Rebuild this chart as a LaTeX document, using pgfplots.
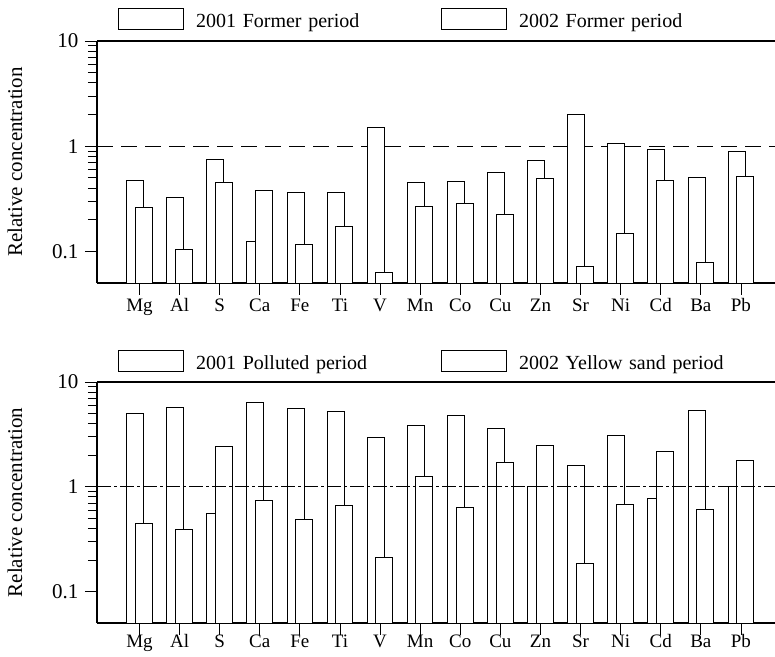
\documentclass[border=0pt]{standalone}
\usepackage{pgfplots}
\pgfplotsset{compat=1.18}
\usepackage{fontspec}
\setmainfont{Liberation Serif}

\newcommand{\lbl}{\fontsize{19}{22}\selectfont}
\newcommand{\num}{\fontsize{21}{24}\selectfont}
\newcommand{\leg}{\fontsize{20}{23}\selectfont}

\begin{document}
\begin{tikzpicture}

% upper panel: former periods
\begin{axis}[
    scale only axis, width=678pt, height=242pt,
    at={(97pt,-41pt)}, anchor=north west,
    xmin=-1.06, xmax=15.85,
    ymode=log, ymin=0.05, ymax=10,
    log origin=infty,
    axis x line*=box, axis y line*=left,
    axis line style={line width=1.1pt},
    xtick={0,...,15},
    xticklabels={Mg,Al,S,Ca,Fe,Ti,V,Mn,Co,Cu,Zn,Sr,Ni,Cd,Ba,Pb},
    xtick pos=left,
    ytick={0.1,1,10}, yticklabels={0.1,1,10},
    tick align=outside,
    major tick length=12pt, minor tick length=9pt,
    tick style={black, line width=0.8pt},
    xticklabel style={font=\lbl, anchor=base, yshift=-17pt},
    yticklabel style={font=\num, anchor=east, xshift=-3pt},
    ylabel={Relative concentration},
    ylabel style={font=\num, at={(axis description cs:-0.121,0.5)}, anchor=center},
    legend columns=2,
    legend style={draw=none, fill=none, inner sep=0pt,
      at={(rel axis cs:0,1)}, anchor=north west, xshift=21pt, yshift=33pt,
      font=\leg, cells={anchor=base west},
      nodes={inner xsep=12pt, inner ysep=0pt, text width=233pt}},
    legend image code/.code={\draw[black, line width=0.9pt, fill=white] (0pt,-2pt) rectangle (65pt,19pt);},
  ]
  \addplot[forget plot, black, line width=0.7pt, dash pattern=on 16pt off 8pt] coordinates {(-1.06,1) (15.85,1)};
  \addplot[ybar, bar width=17pt, bar shift=-4.3pt, fill=white, draw=black, line width=1pt] coordinates {
    (0,0.467)(1,0.325)(2,0.747)(3,0.123)(4,0.359)(5,0.362)(6,1.50)(7,0.454)
    (8,0.461)(9,0.557)(10,0.731)(11,2.02)(12,1.05)(13,0.936)(14,0.499)(15,0.896)
  };
  \addlegendentry{2001 Former period}
  \addplot[ybar, bar width=17pt, bar shift=4.3pt, fill=white, draw=black, line width=1pt] coordinates {
    (0,0.264)(1,0.104)(2,0.447)(3,0.375)(4,0.117)(5,0.171)(6,0.063)(7,0.266)
    (8,0.286)(9,0.225)(10,0.496)(11,0.0724)(12,0.148)(13,0.474)(14,0.079)(15,0.518)
  };
  \addlegendentry{2002 Former period}
\end{axis}

% lower panel: polluted / yellow sand periods
\begin{axis}[
    scale only axis, width=678pt, height=241pt,
    at={(97pt,-382pt)}, anchor=north west,
    xmin=-1.06, xmax=15.85,
    ymode=log, ymin=0.05, ymax=10,
    log origin=infty,
    axis x line*=box, axis y line*=left,
    axis line style={line width=1.1pt},
    xtick={0,...,15},
    xticklabels={Mg,Al,S,Ca,Fe,Ti,V,Mn,Co,Cu,Zn,Sr,Ni,Cd,Ba,Pb},
    xtick pos=left,
    ytick={0.1,1,10}, yticklabels={0.1,1,10},
    tick align=outside,
    major tick length=12pt, minor tick length=9pt,
    tick style={black, line width=0.8pt},
    xticklabel style={font=\lbl, anchor=base, yshift=-13pt},
    yticklabel style={font=\num, anchor=east, xshift=-3pt},
    ylabel={Relative concentration},
    ylabel style={font=\num, at={(axis description cs:-0.121,0.5)}, anchor=center},
    legend columns=2,
    legend style={draw=none, fill=none, inner sep=0pt,
      at={(rel axis cs:0,1)}, anchor=north west, xshift=21pt, yshift=32pt,
      font=\leg, cells={anchor=base west},
      nodes={inner xsep=12pt, inner ysep=0pt, text width=233pt}},
    legend image code/.code={\draw[black, line width=0.9pt, fill=white] (0pt,-2pt) rectangle (65pt,19pt);},
  ]
  \addplot[ybar, bar width=17pt, bar shift=-4.3pt, fill=white, draw=black, line width=1pt] coordinates {
    (0,4.97)(1,5.75)(2,0.555)(3,6.38)(4,5.59)(5,5.23)(6,2.94)(7,3.81)
    (8,4.78)(9,3.59)(10,1.0)(11,1.59)(12,3.09)(13,0.773)(14,5.31)(15,1.0)
  };
  \addlegendentry{2001 Polluted period}
  \addplot[ybar, bar width=17pt, bar shift=4.3pt, fill=white, draw=black, line width=1pt] coordinates {
    (0,0.445)(1,0.395)(2,2.42)(3,0.745)(4,0.482)(5,0.667)(6,0.209)(7,1.26)
    (8,0.628)(9,1.72)(10,2.48)(11,0.186)(12,0.682)(13,2.17)(14,0.607)(15,1.78)
  };
  \addlegendentry{2002 Yellow sand period}
  \addplot[forget plot, black, line width=0.6pt, dash pattern=on 14pt off 3pt on 3pt off 3pt] coordinates {(-1.06,1) (15.85,1)};
\end{axis}

\pgfresetboundingbox
\path[use as bounding box] (0,0) rectangle (775pt,-656pt);
\end{tikzpicture}
\end{document}
